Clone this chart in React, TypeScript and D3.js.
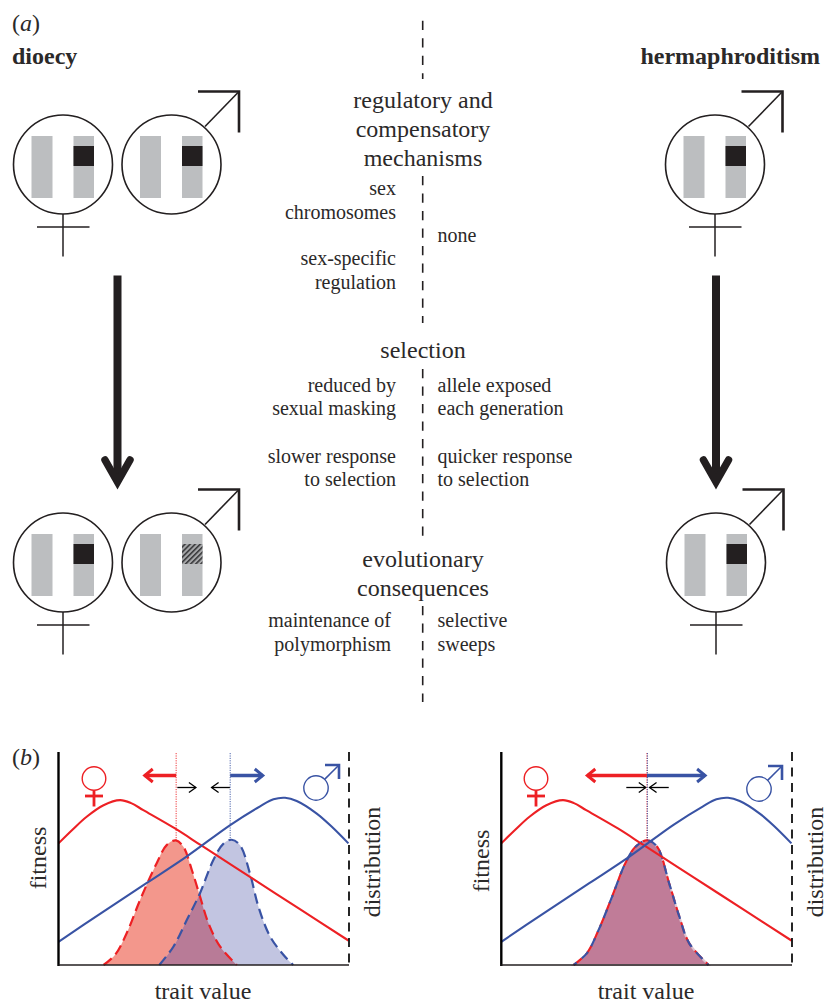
import React from "react";
import * as d3 from "d3";

type P = [number, number];

// ---- panel (b) data: trait value (0-100), height (0-100) ----
const femaleFitness: P[] = [[0,57.1],[4.8,63.5],[9.7,69.6],[15.5,75],[21.2,77.4],[25,76],[29.2,72.7],[40.1,64.1],[49.3,56],[65.9,41.4],[83.1,26.2],[99.8,11.5]];
const maleFitness: P[] = [[0,10.9],[14.3,24],[30.4,38.5],[44.2,51],[59.1,65.7],[69.4,74.5],[74,77.8],[78,78.5],[82,77],[88.9,71.1],[94,65],[99.8,57.1]];
const femaleDist: P[] = [[15.5,0],[19.5,4.8],[23.5,15],[28.1,30.6],[33.8,47.8],[37.3,56.4],[40.4,58.5],[43,55.5],[45.9,44.6],[48.7,32.2],[51.6,19.7],[55.6,8.7],[61.4,0]];
const maleDist: P[] = [[34.7,0],[39.6,8.7],[44.2,21.2],[48.7,33.7],[53.3,49.3],[56.8,57],[59.6,58.8],[62.5,56.2],[65.9,43],[68.8,27.5],[72.8,13.5],[77.4,4.8],[80.8,0]];
const sharedDist: P[] = [[24.9,0],[29.5,5.6],[33.5,16.5],[38.1,32],[42.7,47.8],[46.2,55.5],[50.2,58.5],[53.6,55.5],[57.7,38.5],[61.2,22.9],[64.6,10.3],[71.3,0]];

// ---- panel (a) text ----
const headingLines = [
  { lines: ["regulatory and", "compensatory", "mechanisms"], ys: [108, 137, 166] },
  { lines: ["selection"], ys: [358] },
  { lines: ["evolutionary", "consequences"], ys: [567, 596] },
];
const leftNotes: [string, number, number][] = [
  ["sex", 396, 195], ["chromosomes", 396, 219], ["sex-specific", 396, 265], ["regulation", 396, 289],
  ["reduced by", 396, 392], ["sexual masking", 396, 415], ["slower response", 396, 463], ["to selection", 396, 486],
  ["maintenance of", 391, 627], ["polymorphism", 391, 651],
];
const rightNotes: [string, number][] = [
  ["none", 242], ["allele exposed", 392], ["each generation", 415], ["quicker response", 463], ["to selection", 486],
  ["selective", 627], ["sweeps", 651],
];
const centreDashes: P[] = [[20.7, 79], [176, 323], [369, 538], [606, 702]];

const INK = "#231f20";
const TEXT = "#2b2929";
const GREY = "#bcbec0";
const RED = "#ed2024";
const BLUE = "#3953a4";
const SERIF = "'Liberation Serif', serif";

type Sym = { cx: number; cy: number; fx: number; ox: number; hatched?: boolean };
const genomes: Sym[] = [
  { cx: 63, cy: 164.5, fx: 1, ox: 0 },
  { cx: 171.5, cy: 164.5, fx: 0, ox: 1 },
  { cx: 715, cy: 164.5, fx: 1, ox: 1 },
  { cx: 63, cy: 562.5, fx: 1, ox: 0 },
  { cx: 171.5, cy: 562.5, fx: 0, ox: 1, hatched: true },
  { cx: 716, cy: 562.5, fx: 1, ox: 1 },
];

function Genome({ cx, cy, fx, ox, hatched }: Sym) {
  const tipX = cx + 67.5, tipY = cy - 73;
  return (
    <g>
      <rect x={cx - 31.5} y={cy - 28.5} width={21} height={62} fill={GREY} />
      <rect x={cx + 10.5} y={cy - 28.5} width={20.5} height={62} fill={GREY} />
      <rect x={cx + 10.5} y={cy - 18.5} width={20.5} height={20} fill={hatched ? "url(#hatch)" : INK} />
      <circle cx={cx} cy={cy} r={49.5} fill="none" stroke={INK} strokeWidth={1.6} />
      {fx ? (
        <g stroke={INK} strokeWidth={1.5}>
          <line x1={cx} x2={cx} y1={cy + 49.5} y2={cy + 92} />
          <line x1={cx - 26} x2={cx + 26.5} y1={cy + 62.5} y2={cy + 62.5} />
        </g>
      ) : null}
      {ox ? (
        <g stroke={INK} fill="none">
          <line x1={cx + 33.5} y1={cy - 38} x2={tipX - 1} y2={tipY + 1} strokeWidth={1.6} />
          <polyline points={`${tipX - 41},${tipY} ${tipX},${tipY} ${tipX},${tipY + 41}`} strokeWidth={2.6} />
        </g>
      ) : null}
    </g>
  );
}

function BigArrow({ x }: { x: number }) {
  return (
    <g>
      <rect x={x - 4} y={275.5} width={8} height={205} fill={INK} />
      <path
        d={`M${x - 12.5},460 L${x},482 L${x + 12.5},460`}
        fill="none" stroke={INK} strokeWidth={7.5} strokeLinecap="round" strokeLinejoin="miter"
      />
      <path d={`M${x - 7},474 L${x},488 L${x + 7},474 Z`} fill={INK} />
    </g>
  );
}

function Venus({ cx, cy }: { cx: number; cy: number }) {
  return (
    <g stroke={RED} fill="none">
      <circle cx={cx} cy={cy} r={11.8} strokeWidth={1.4} />
      <line x1={cx} x2={cx} y1={cy + 12} y2={cy + 28} strokeWidth={2.8} />
      <line x1={cx - 9} x2={cx + 9} y1={cy + 17.5} y2={cy + 17.5} strokeWidth={2.8} />
    </g>
  );
}
function Mars({ cx, cy }: { cx: number; cy: number }) {
  const tx = cx + 23, ty = cy - 23;
  return (
    <g stroke={BLUE} fill="none">
      <circle cx={cx} cy={cy} r={12.2} strokeWidth={1.4} />
      <line x1={cx + 8.6} y1={cy - 8.6} x2={tx} y2={ty} strokeWidth={1.5} />
      <polyline points={`${tx - 14},${ty} ${tx},${ty} ${tx},${ty + 14}`} strokeWidth={2.6} />
    </g>
  );
}

function openHead(x: number, y: number, dir: number, w: number, h: number) {
  return `M${x - dir * w},${y - h} L${x},${y} L${x - dir * w},${y + h}`;
}

function Panel({
  left, right, fDist, mDist, fMean, mMean, fTip, mTip, inL, inR, id, fitX, distX, traitX, fitY, shared,
}: {
  left: number; right: number; fDist: P[]; mDist: P[]; fMean: number; mMean: number; fTip: number; mTip: number;
  inL: [number, number]; inR: [number, number]; id: string; fitX: number; distX: number; traitX: number; fitY: number; shared: boolean;
}) {
  const x = d3.scaleLinear().domain([0, 100]).range([left, right]);
  const y = d3.scaleLinear().domain([0, 100]).range([965, 752]);
  const line = d3.line<P>().x((d) => x(d[0])).y((d) => y(d[1])).curve(d3.curveCatmullRom.alpha(0.5));
  const area = d3.area<P>().x((d) => x(d[0])).y0(y(0)).y1((d) => y(d[1])).curve(d3.curveCatmullRom.alpha(0.5));
  const base = y(0), top = y(100);
  const arrowY = 775.5, smallY = 787.5;
  return (
    <g>
      {shared ? (
        <>
          <path d={area(mDist)!} fill="#c07c98" stroke="#dcc3d0" strokeWidth={2} />
        </>
      ) : (
        <>
          <clipPath id={id}><path d={area(fDist)!} /></clipPath>
          <path d={area(fDist)!} fill="#f3978c" />
          <path d={area(mDist)!} fill="#c2c5e1" />
          <path d={area(mDist)!} fill="#b87b97" clipPath={`url(#${id})`} />
        </>
      )}
      <path d={line(fDist)!} fill="none" stroke={RED} strokeWidth={2.2} strokeDasharray="10.5 5.5" />
      <path d={line(mDist)!} fill="none" stroke={BLUE} strokeWidth={2.2}
        strokeDasharray={shared ? "9 6.5" : "10.5 5.5"} strokeDashoffset={shared ? 5 : 0} />
      <path d={line(femaleFitness)!} fill="none" stroke={RED} strokeWidth={2.1} />
      <path d={line(maleFitness)!} fill="none" stroke={BLUE} strokeWidth={2.1} />

      <line x1={x(fMean)} x2={x(fMean)} y1={top + 1} y2={y(58.5)} stroke={RED} strokeWidth={0.9} strokeDasharray="1.2 1.2" />
      <line x1={x(mMean) + (shared ? 0.5 : 0)} x2={x(mMean) + (shared ? 0.5 : 0)} y1={top + 1} y2={y(58.5)} stroke={BLUE} strokeWidth={0.9} strokeDasharray="1.2 1.2" />

      <g fill="none" strokeLinejoin="miter">
        <line x1={x(fMean)} x2={x(fTip) + 2} y1={arrowY} y2={arrowY} stroke={RED} strokeWidth={3.4} />
        <path d={openHead(x(fTip) + 2, arrowY, -1, 8, 6.5)} stroke={RED} strokeWidth={3} />
        <line x1={x(mMean)} x2={x(mTip) - 2} y1={arrowY} y2={arrowY} stroke={BLUE} strokeWidth={3.4} />
        <path d={openHead(x(mTip) - 2, arrowY, 1, 8, 6.5)} stroke={BLUE} strokeWidth={3} />
        <line x1={x(inL[0])} x2={x(inL[1])} y1={smallY} y2={smallY} stroke="#000" strokeWidth={1.3} />
        <path d={openHead(x(inL[1]), smallY, 1, 7, 5)} stroke="#000" strokeWidth={1.3} />
        <line x1={x(inR[0])} x2={x(inR[1])} y1={smallY} y2={smallY} stroke="#000" strokeWidth={1.3} />
        <path d={openHead(x(inR[1]), smallY, -1, 7, 5)} stroke="#000" strokeWidth={1.3} />
      </g>

      <line x1={left} x2={left} y1={top} y2={base + 1} stroke="#000" strokeWidth={2.4} />
      <line x1={left} x2={right} y1={base} y2={base} stroke={INK} strokeWidth={1.3} />
      <line x1={right} x2={right} y1={top} y2={base} stroke="#000" strokeWidth={1.7} strokeDasharray="9 6.5" />

      <g fontFamily={SERIF} fontSize={24} fill={TEXT}>
        <text transform={`translate(${fitX},${fitY}) rotate(-90)`} textAnchor="middle">fitness</text>
        <text transform={`translate(${distX},862) rotate(-90)`} textAnchor="middle">distribution</text>
        <text x={traitX} y={999} textAnchor="middle">trait value</text>
      </g>
    </g>
  );
}

export default function App() {
  return (
    <svg width={824} height={1003} viewBox="0 0 824 1003" style={{ position: "absolute", left: 0, top: 0, background: "#fff" }}>
      <defs>
        <pattern id="hatch" width={3.6} height={3.6} patternUnits="userSpaceOnUse" patternTransform="rotate(45)">
          <rect width={3.6} height={3.6} fill="#a8a9ab" />
          <rect width={1.6} height={3.6} fill="#3a3a3c" />
        </pattern>
      </defs>

      <g fontFamily={SERIF} fill={TEXT}>
        <text x={12} y={31} fontSize={24}>(<tspan fontStyle="italic">a</tspan>)</text>
        <text x={12} y={765} fontSize={24}>(<tspan fontStyle="italic">b</tspan>)</text>
        <text x={12} y={64} fontSize={24} fontWeight="bold">dioecy</text>
        <text x={820} y={64} fontSize={24} fontWeight="bold" textAnchor="end">hermaphroditism</text>
        {headingLines.map((h) =>
          h.lines.map((l, i) => (
            <text key={l} x={423} y={h.ys[i]} fontSize={24} textAnchor="middle">{l}</text>
          ))
        )}
        {leftNotes.map(([t, x, y]) => (
          <text key={t + y} x={x} y={y} fontSize={20} textAnchor="end">{t}</text>
        ))}
        {rightNotes.map(([t, y]) => (
          <text key={t + y} x={437.5} y={y} fontSize={20}>{t}</text>
        ))}
      </g>

      {centreDashes.map(([a, b]) => (
        <line key={a} x1={422.7} x2={422.7} y1={a} y2={b} stroke={INK} strokeWidth={1.6} strokeDasharray="9.3 8.2" />
      ))}

      {genomes.map((g, i) => <Genome key={i} {...g} />)}
      <BigArrow x={117.5} />
      <BigArrow x={716} />

      <Panel left={58.5} right={349} fDist={femaleDist} mDist={maleDist} fMean={40.5} mMean={59.1}
        fTip={29} mTip={71} inL={[40.9, 47.3]} inR={[59, 52.7]} id="ov1"
        fitX={46} distX={380} traitX={203} fitY={858} shared={false} />
      <Panel left={501.3} right={792} fDist={sharedDist} mDist={sharedDist} fMean={50.1} mMean={50.1}
        fTip={28.9} mTip={70.8} inL={[43, 49.7]} inR={[57.6, 51]} id="ov2"
        fitX={489} distX={822.5} traitX={646} fitY={861} shared={true} />

      <Venus cx={94} cy={778.5} />
      <Mars cx={316} cy={788} />
      <Venus cx={536} cy={778.5} />
      <Mars cx={759} cy={789} />
    </svg>
  );
}
